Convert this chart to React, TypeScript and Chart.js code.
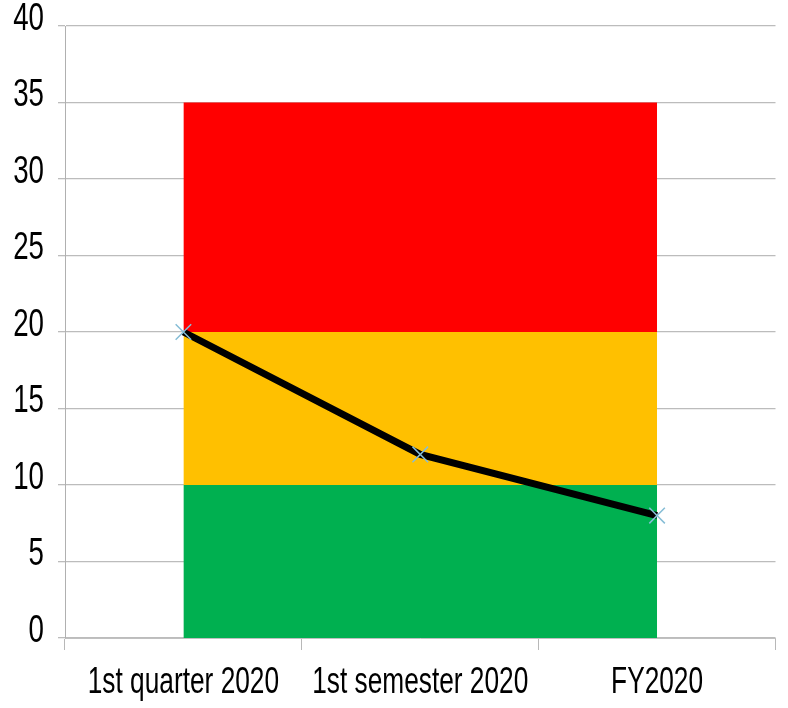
import React, { useEffect, useRef } from "react";
import { Chart, registerables } from "chart.js";

Chart.register(...registerables);

const categories = ["1st quarter 2020", "1st semester 2020", "FY2020"];
const greenUpper = [10, 10, 10];
const yellowUpper = [20, 20, 20];
const redUpper = [35, 35, 35];
const actual = [20, 12, 8];

const FONT = "'Liberation Sans', Arial, sans-serif";
const Y_LABEL_SIZE = 39;
const X_LABEL_SIZE = 37;
const SQUEEZE = 0.71;

const narrowLabels = {
  id: "narrowLabels",
  afterDraw(chart: any) {
    const ctx = chart.ctx;
    ctx.save();
    ctx.fillStyle = "#000000";
    const y = chart.scales.y;
    ctx.font = `${Y_LABEL_SIZE}px ${FONT}`;
    y.ticks.forEach((t: any, i: number) => {
      const py = y.getPixelForTick(i);
      ctx.save();
      ctx.translate(44, py - 7);
      ctx.scale(SQUEEZE, 1);
      ctx.textAlign = "right";
      ctx.textBaseline = "middle";
      ctx.fillText(String(t.label), 0, 0);
      ctx.restore();
    });
    const x = chart.scales.x;
    ctx.font = `${X_LABEL_SIZE}px ${FONT}`;
    x.ticks.forEach((t: any, i: number) => {
      const px = x.getPixelForTick(i);
      ctx.save();
      ctx.translate(px, 693);
      ctx.scale(SQUEEZE, 1);
      ctx.textAlign = "center";
      ctx.textBaseline = "alphabetic";
      ctx.fillText(String(t.label), 0, 0);
      ctx.restore();
    });
    ctx.restore();
  },
};

export default function App() {
  const ref = useRef<HTMLCanvasElement | null>(null);
  useEffect(() => {
    if (!ref.current) return;
    const chart = new Chart(ref.current, {
      type: "line",
      data: {
        labels: categories,
        datasets: [
          {
            data: actual,
            borderColor: "#000000",
            borderWidth: 7,
            pointStyle: "crossRot",
            pointRadius: 11,
            pointBorderColor: "#86bdd6",
            pointBorderWidth: 1.5,
            fill: false,
            order: 0,
            tension: 0,
          },
          {
            data: greenUpper,
            borderWidth: 0,
            pointRadius: 0,
            backgroundColor: "#00B050",
            fill: "origin",
            order: 3,
          },
          {
            data: yellowUpper,
            borderWidth: 0,
            pointRadius: 0,
            backgroundColor: "#FFC000",
            fill: "-1",
            order: 2,
          },
          {
            data: redUpper,
            borderWidth: 0,
            pointRadius: 0,
            backgroundColor: "#FF0000",
            fill: "-1",
            order: 1,
          },
        ],
      },
      options: {
        animation: false,
        responsive: false,
        maintainAspectRatio: false,
        layout: { padding: { top: 26, right: 11, left: 0, bottom: 0 } },
        plugins: { legend: { display: false }, tooltip: { enabled: false } },
        scales: {
          x: {
            offset: true,
            grid: {
              offset: true,
              drawOnChartArea: false,
              drawTicks: true,
              tickLength: 12,
              color: "#b8b8b8",
            },
            border: { display: true, color: "#c0c0c0" },
            ticks: {
              color: "rgba(0,0,0,0)",
              font: { family: FONT, size: 8 },
              padding: 0,
              maxRotation: 0,
              autoSkip: false,
            },
            afterFit: (s: any) => {
              s.height = 70;
            },
          },
          y: {
            min: 0,
            max: 40,
            ticks: {
              stepSize: 5,
              color: "rgba(0,0,0,0)",
              font: { family: FONT, size: 8 },
              padding: 12,
              autoSkip: false,
            },
            grid: {
              color: "#bcbcbc",
              tickLength: 7,
              lineWidth: 1.3,
            },
            border: { display: true, color: "#b0b0b0" },
            afterFit: (s: any) => {
              s.width = 65;
            },
          },
        },
      },
      plugins: [narrowLabels],
    });
    return () => chart.destroy();
  }, []);
  return (
    <div style={{ position: "fixed", left: 0, top: 0, width: 788, height: 708, background: "#fff" }}>
      <canvas ref={ref} width={788} height={708} style={{ display: "block" }} />
    </div>
  );
}
